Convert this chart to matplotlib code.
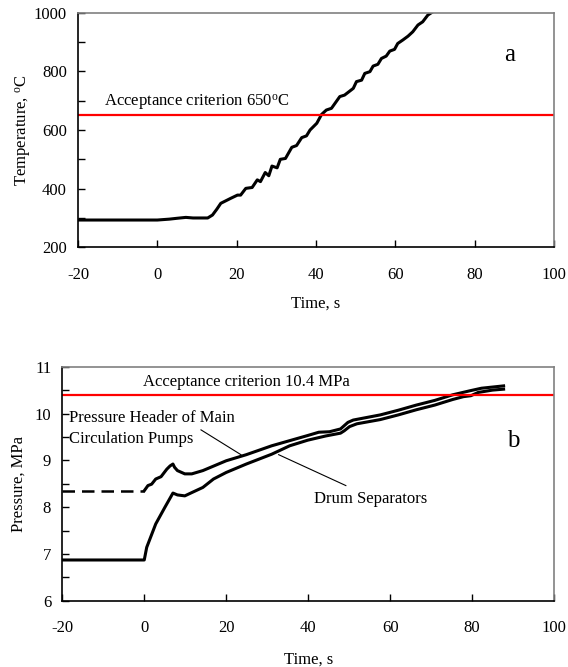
import matplotlib
matplotlib.use("Agg")
import matplotlib.pyplot as plt
from matplotlib.ticker import MultipleLocator

plt.rcParams['font.family'] = ['Liberation Serif', 'DejaVu Serif']
plt.rcParams['mathtext.fontset'] = 'custom'
plt.rcParams['mathtext.rm'] = 'Liberation Serif'
plt.rcParams['mathtext.it'] = 'Liberation Serif:italic'
plt.rcParams['axes.unicode_minus'] = False

# ---- Panel a: temperature ----
time_a = [-20, 0, 3, 5, 7.2, 9, 12.7, 13.9, 15, 16, 18.5, 20.2, 21, 22.3, 23.9,
          25.2, 26, 27.2, 28.1, 28.9, 30.2, 31, 32.3, 33.9, 35.1, 36.4, 37.6,
          38.5, 40.2, 41.4, 42.6, 43.9, 46, 47.2, 49.4, 50.2, 51.5, 52.3, 53.6,
          54.4, 55.6, 56.5, 57.7, 58.6, 59.8, 60.6, 61.9, 63.2, 64.4, 65.7,
          66.9, 68.2, 69.1, 70.5]
temp_a = [293, 293, 296, 299, 302, 300, 300, 310, 330, 350, 367, 378, 378, 401,
          404, 430, 424, 455, 444, 477, 471, 500, 503, 541, 547, 574, 580, 600,
          623, 653, 668, 674, 714, 719, 742, 765, 770, 793, 799, 818, 824, 844,
          852, 869, 875, 895, 907, 920, 935, 958, 969, 992, 1000, 1012]
criterion_a = 650

# ---- Panel b: pressure ----
time_drum = [-20, 0, 0.6, 2.8, 5.0, 7.0, 8.1, 9.9, 11.6, 14.3, 16.9, 20, 24.9,
             31.1, 35.5, 39.9, 44.3, 47.9, 48.8, 50.1, 51.9, 57.6, 62, 66.4,
             70.9, 75.3, 77.9, 79.7, 81.5, 85, 87.7]
p_drum = [6.87, 6.87, 7.14, 7.64, 7.99, 8.30, 8.26, 8.24, 8.31, 8.42, 8.60,
          8.74, 8.92, 9.13, 9.31, 9.43, 9.52, 9.58, 9.63, 9.72, 9.78, 9.87,
          9.97, 10.08, 10.18, 10.30, 10.36, 10.38, 10.45, 10.50, 10.52]
time_header = [0, 0.9, 1.8, 2.8, 4.1, 5.5, 6.3, 7.0, 7.4, 8.1, 9.9, 11.6, 14.3,
               20, 24.9, 31.1, 35.5, 39.9, 42.6, 45.2, 47.9, 49.7, 51.0, 57.6,
               62, 66.4, 70.9, 75.3, 79.7, 82.3, 87.7]
p_header = [8.35, 8.46, 8.49, 8.60, 8.65, 8.81, 8.88, 8.92, 8.85, 8.78, 8.71,
            8.71, 8.78, 8.99, 9.12, 9.31, 9.42, 9.53, 9.60, 9.61, 9.67, 9.81,
            9.86, 9.97, 10.07, 10.18, 10.28, 10.40, 10.49, 10.54, 10.59]
time_header_init = [-20, 0]
p_header_init = [8.35, 8.35]
criterion_b = 10.4

W, H = 568, 667
fig = plt.figure(figsize=(W / 100, H / 100), dpi=100)

def px_axes(left, right, top, bottom):
    return fig.add_axes([left / W, 1 - bottom / H, (right - left) / W, (bottom - top) / H])

axa = px_axes(78, 554, 12.7, 247.3)
axb = px_axes(62.3, 554, 366.7, 600.7)

FS = 12
for ax in (axa, axb):
    ax.tick_params(direction='in', length=5, width=1, labelsize=FS,
                   top=False, right=False)
    ax.tick_params(axis='x', pad=14)
    ax.tick_params(axis='y', pad=8)
    ax.tick_params(which='minor', direction='in', length=5, width=1)
    ax.spines['top'].set_color('#808080')
    ax.spines['right'].set_color('#808080')
    for s in ax.spines.values():
        s.set_linewidth(1.2)
    ax.set_xlim(-20, 100)
    ax.xaxis.set_major_locator(MultipleLocator(20))

axa.set_xlabel('Time, s', fontsize=FS, labelpad=9)
axb.set_xlabel('Time, s', fontsize=FS, labelpad=11)

# Panel a
axa.plot(time_a, temp_a, color='black', lw=2.2, solid_joinstyle='round')
axa.axhline(criterion_a, color='#ff0000', lw=1.6)
axa.set_ylim(200, 1000)
axa.yaxis.set_major_locator(MultipleLocator(200))
axa.yaxis.set_minor_locator(MultipleLocator(100))
axa.set_ylabel('Temperature, $^{\\mathrm{o}}$C', fontsize=FS, labelpad=0)
axa.text(-13.5, 693, 'Acceptance criterion 650$^{\\mathrm{o}}$C', fontsize=FS,
         va='center', ha='left')
axa.text(88.7, 856, 'a', fontsize=18, ha='center', va='center')

# Panel b
axb.plot(time_drum, p_drum, color='black', lw=2.2, solid_joinstyle='round')
axb.plot(time_header, p_header, color='black', lw=2.2, solid_joinstyle='round')
axb.plot(time_header_init, p_header_init, color='black', lw=1.8,
         linestyle=(0, (5, 2.8)))
axb.axhline(criterion_b, color='#ff0000', lw=1.6)
axb.set_ylim(6, 11)
axb.yaxis.set_major_locator(MultipleLocator(1))
axb.yaxis.set_minor_locator(MultipleLocator(0.5))
axb.set_ylabel('Pressure, MPa', fontsize=FS, labelpad=6)
axb.text(-0.3, 10.67, 'Acceptance criterion 10.4 MPa', fontsize=FS,
         va='center', ha='left')
axb.text(-18.4, 9.90, 'Pressure Header of Main', fontsize=FS, va='center', ha='left')
axb.text(-18.4, 9.45, 'Circulation Pumps', fontsize=FS, va='center', ha='left')
axb.plot([13.85, 23.6], [9.65, 9.12], color='black', lw=0.8)
axb.plot([32.8, 49.2], [9.12, 8.46], color='black', lw=0.8)
axb.text(41.5, 8.17, 'Drum Separators', fontsize=FS, va='center', ha='left')
axb.text(90, 9.42, 'b', fontsize=18, ha='center', va='center')

fig.savefig('out.png', dpi=100)
